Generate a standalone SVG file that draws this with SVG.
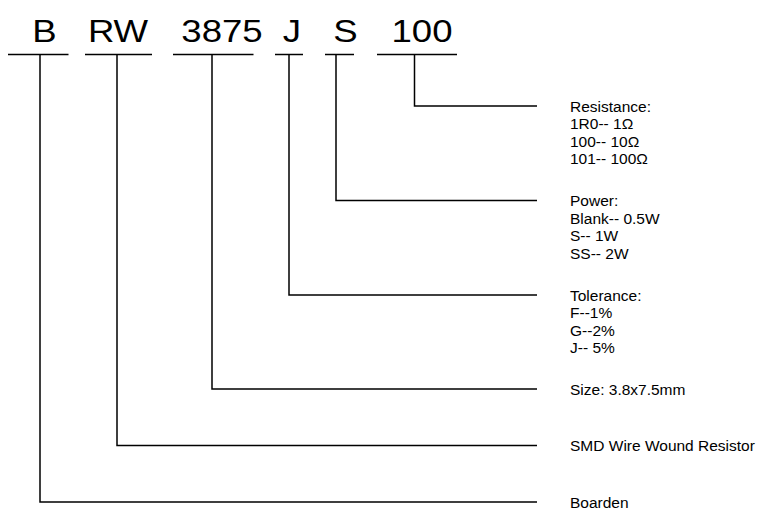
<svg xmlns="http://www.w3.org/2000/svg" width="762" height="509" viewBox="0 0 762 509">
<style>
.big{font-family:"Liberation Sans",Arial,sans-serif;font-size:31px;fill:#000;text-anchor:middle}
.lbl{font-family:"Liberation Sans",Arial,sans-serif;font-size:15.5px;fill:#000}
.ln{stroke:#000;stroke-width:1.5;fill:none}
</style>
<rect width="762" height="509" fill="#fff"/>
<g id="code">
<g id="seg-B"><text class="big" transform="translate(44.5,41.5) scale(1.18,1)">B</text><line class="ln" x1="8" y1="54.5" x2="68.5" y2="54.5"/></g>
<g id="seg-RW"><text class="big" transform="translate(118,41.5) scale(1.18,1)">RW</text><line class="ln" x1="85" y1="54.5" x2="152" y2="54.5"/></g>
<g id="seg-3875"><text class="big" transform="translate(222,41.5) scale(1.18,1)">3875</text><line class="ln" x1="173" y1="54.5" x2="253.5" y2="54.5"/></g>
<g id="seg-J"><text class="big" transform="translate(292,41.5) scale(1.18,1)">J</text><line class="ln" x1="275" y1="54.5" x2="303" y2="54.5"/></g>
<g id="seg-S"><text class="big" transform="translate(345.5,41.5) scale(1.18,1)">S</text><line class="ln" x1="325" y1="54.5" x2="354" y2="54.5"/></g>
<g id="seg-100"><text class="big" transform="translate(422,41.5) scale(1.18,1)">100</text><line class="ln" x1="377" y1="54.5" x2="457" y2="54.5"/></g>
</g>
<g id="connectors">
<polyline class="ln" points="414.5,54.5 414.5,106 537,106"/>
<polyline class="ln" points="336,54.5 336,200.5 537,200.5"/>
<polyline class="ln" points="289,54.5 289,295 537,295"/>
<polyline class="ln" points="212,54.5 212,389 537,389"/>
<polyline class="ln" points="117,54.5 117,445.5 537,445.5"/>
<polyline class="ln" points="40,54.5 40,502 537,502"/>
</g>
<g id="resistance"><text class="lbl" x="570" y="111.5">Resistance:<tspan x="570" dy="17.6">1R0-- 1Ω</tspan><tspan x="570" dy="17.6">100-- 10Ω</tspan><tspan x="570" dy="17.6">101-- 100Ω</tspan></text></g>
<g id="power"><text class="lbl" x="570" y="206">Power:<tspan x="570" dy="17.6">Blank-- 0.5W</tspan><tspan x="570" dy="17.6">S-- 1W</tspan><tspan x="570" dy="17.6">SS-- 2W</tspan></text></g>
<g id="tolerance"><text class="lbl" x="570" y="300.5">Tolerance:<tspan x="570" dy="17.6">F--1%</tspan><tspan x="570" dy="17.6">G--2%</tspan><tspan x="570" dy="17.6">J-- 5%</tspan></text></g>
<g id="size"><text class="lbl" x="570" y="394.5">Size: 3.8x7.5mm</text></g>
<g id="type"><text class="lbl" x="570" y="451">SMD Wire Wound Resistor</text></g>
<g id="brand"><text class="lbl" x="570" y="507.5">Boarden</text></g>
</svg>
